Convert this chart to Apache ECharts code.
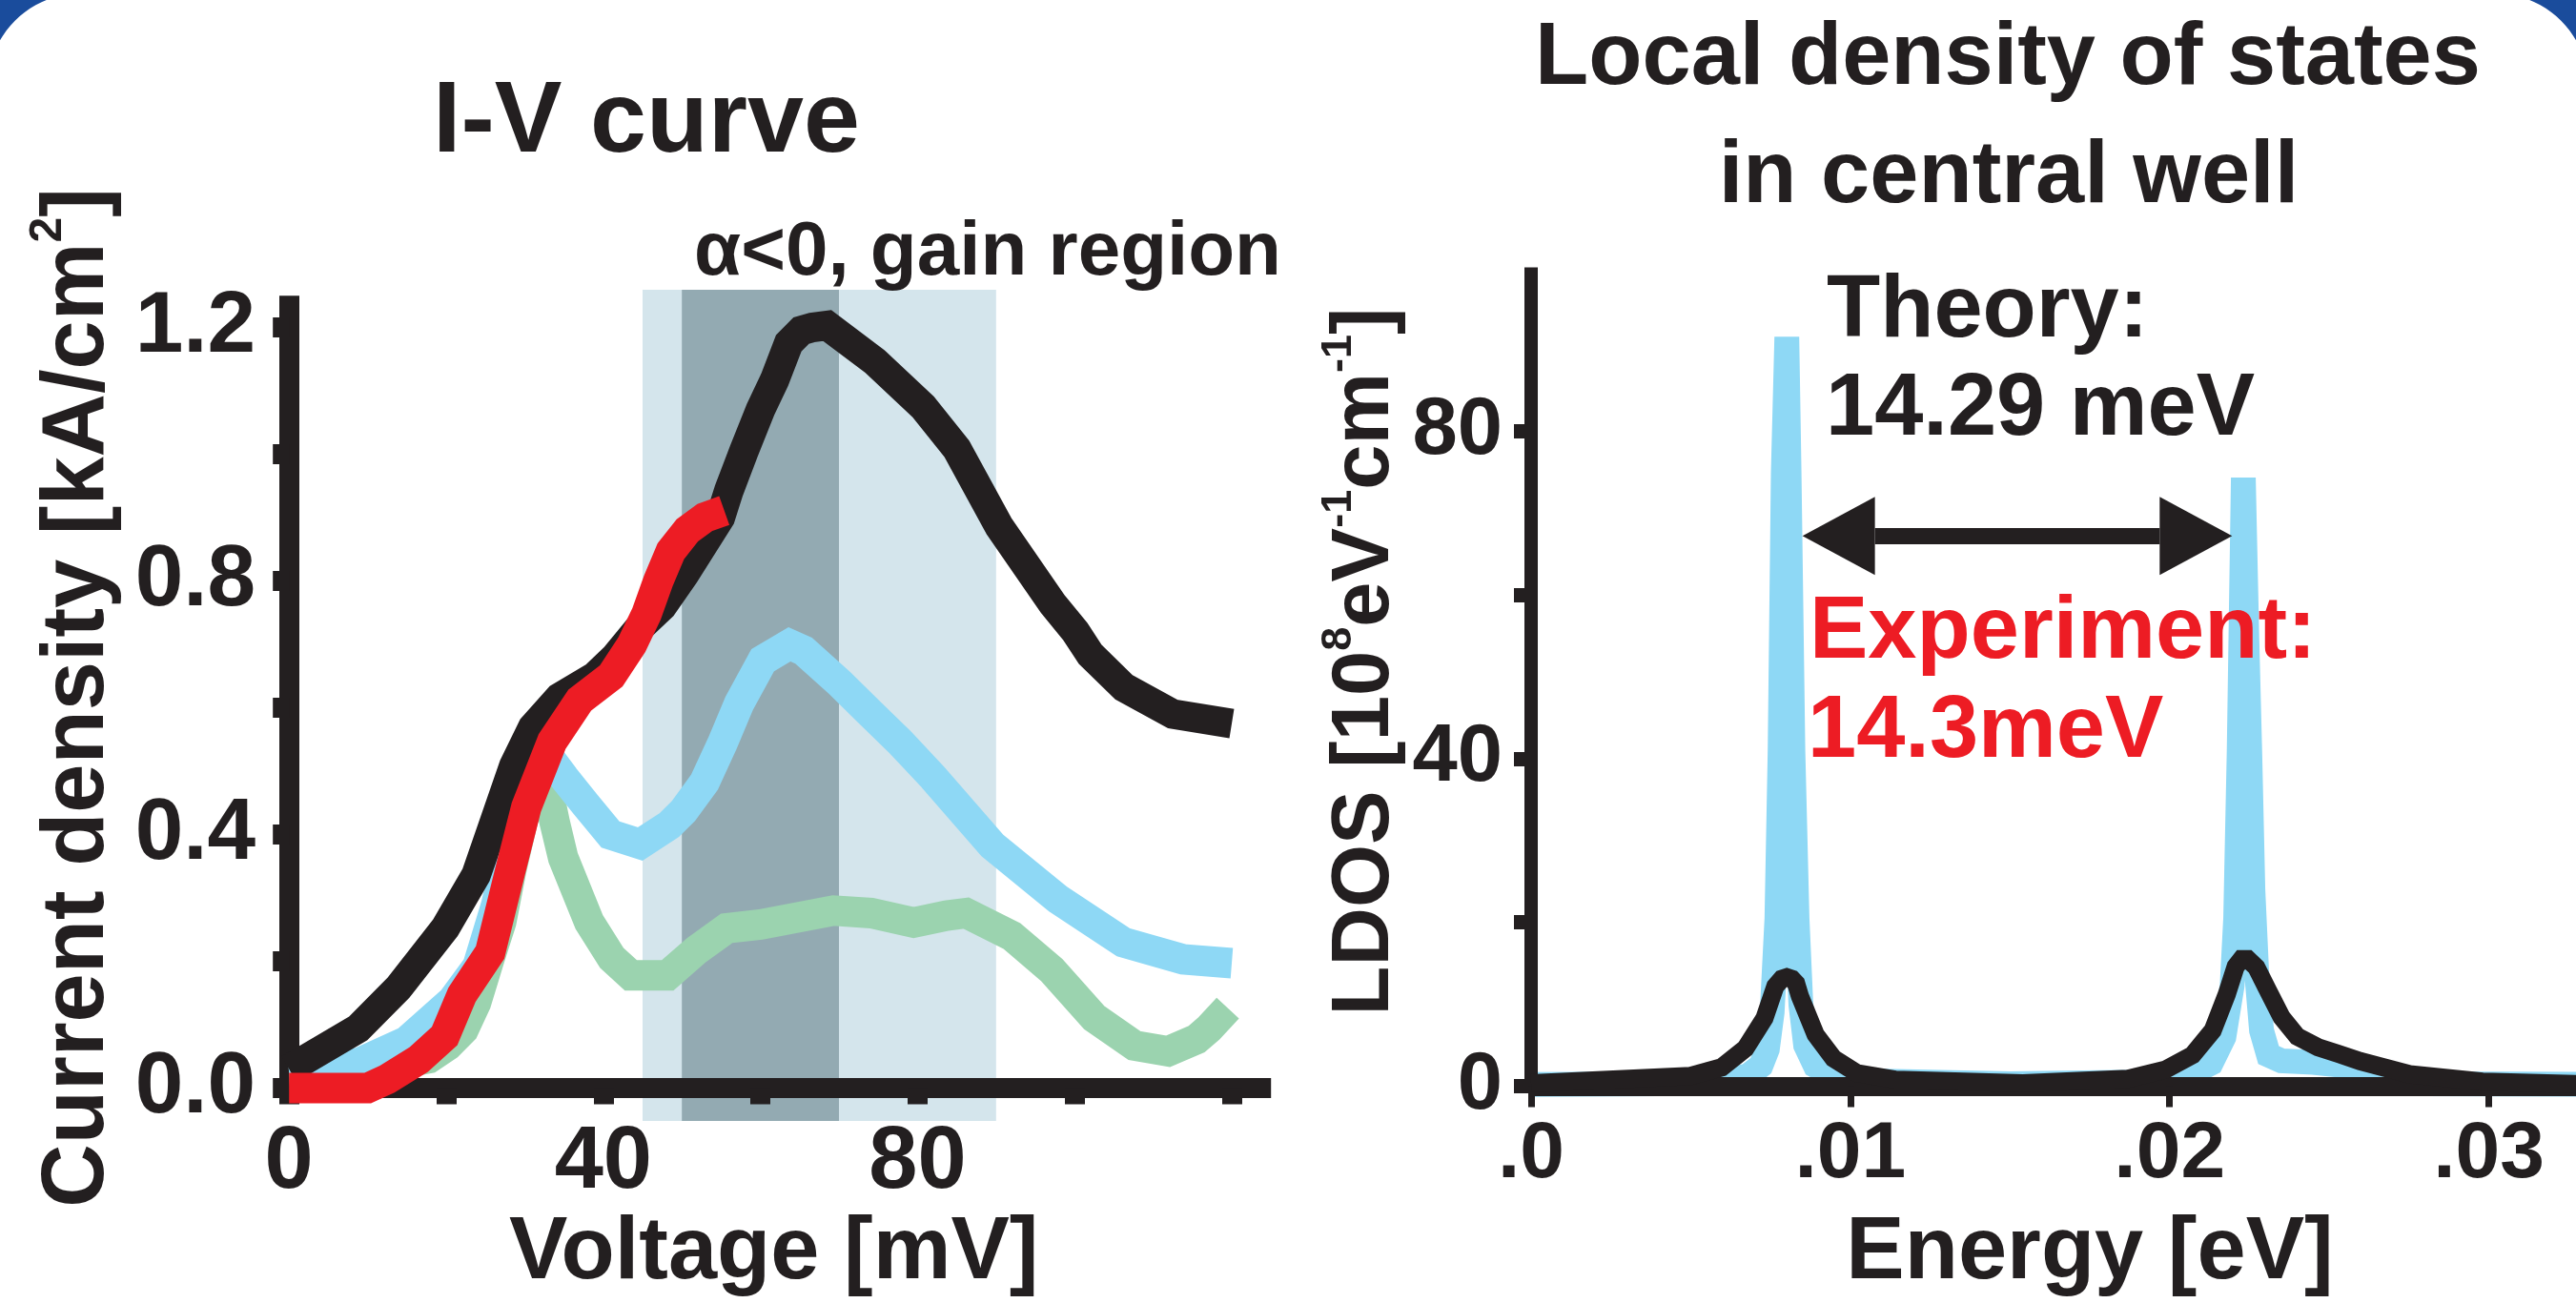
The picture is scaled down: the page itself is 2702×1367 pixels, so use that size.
<!DOCTYPE html>
<html>
<head>
<meta charset="utf-8">
<script src="https://cdn.jsdelivr.net/npm/echarts@6.0.0/dist/echarts.min.js"></script>
<style>
html,body{margin:0;padding:0;background:#ffffff;overflow:hidden;}
#chart{width:2702px;height:1367px;}
</style>
</head>
<body>
<div id="chart"></div>
<script>
// ---------------- data ----------------
// I-V curves: [voltage mV, current density kA/cm^2]
const ivBlack = [[0,0.03],[8.8,0.094],[13.9,0.158],[19.9,0.253],[23.8,0.336],[28.6,0.508],[31,0.569],[34.4,0.616],[39,0.65],[41.5,0.68],[44.5,0.725],[47.5,0.76],[50.3,0.81],[54.9,0.9],[56,0.943],[57.9,1.005],[60,1.07],[61.8,1.117],[63.6,1.175],[65.2,1.195],[66.6,1.2],[68.5,1.203],[74.6,1.146],[80.7,1.075],[85,1.0085],[90.4,0.886],[97.2,0.764],[100.1,0.72],[102,0.684],[106.3,0.632],[112.5,0.59],[120,0.575]];
const ivBlue = [[0,0.025],[9,0.04],[15,0.074],[20.8,0.138],[24,0.192],[26.4,0.29],[28.7,0.416],[30.1,0.47],[32,0.505],[33.5,0.515],[35,0.49],[37.7,0.448],[40.9,0.4],[44.7,0.385],[48.4,0.415],[50.2,0.437],[52.9,0.483],[55.2,0.545],[57.3,0.607],[60.3,0.675],[63.7,0.7],[65.5,0.69],[70.1,0.639],[74.1,0.59],[77.8,0.5455],[82,0.49],[89.5,0.383],[97.9,0.298],[106.2,0.23],[113.8,0.203],[120,0.197]];
const ivGreen = [[0,0.025],[8,0.03],[14,0.038],[17.8,0.047],[20.2,0.067],[22.2,0.092],[23.8,0.135],[25.4,0.2],[27,0.262],[28.3,0.345],[29.8,0.425],[31.2,0.465],[32.8,0.48],[33.8,0.42],[34.9,0.363],[38.2,0.262],[41.1,0.205],[43.5,0.178],[48.2,0.178],[51.9,0.218],[55.7,0.252],[60,0.258],[69.3,0.28],[74.1,0.276],[79.5,0.261],[83.7,0.272],[86.2,0.276],[92,0.24],[97.1,0.186],[102.5,0.111],[107.6,0.067],[111.9,0.058],[115.5,0.077],[117.1,0.094],[119.5,0.126]];
const ivRed = [[0,0],[10,0],[12.5,0.014],[16.5,0.045],[19.8,0.082],[22,0.147],[25.6,0.214],[28.1,0.34],[30.2,0.443],[33.5,0.547],[37,0.612],[41,0.65],[43.65,0.7],[45.5,0.748],[47,0.8],[48.6,0.847],[50.7,0.88],[52.9,0.9],[55.4,0.911]];
const gainBandOuter = [45, 90];   // mV
const gainBandInner = [50, 70];   // mV
const ivXRange = [0, 125];
const ivYRange = [0, 1.25];
const ivXTicks = [0, 20, 40, 60, 80, 100, 120];
const ivXLabels = [0, 40, 80];
const ivYTicks = [0, 0.2, 0.4, 0.6, 0.8, 1.0, 1.2];
const ivYLabels = [0, 0.4, 0.8, 1.2];

// LDOS: [energy eV, LDOS 1e8 eV^-1 cm^-1]
const ldosTheory = [[0,0.2],[0.004,0.3],[0.006,0.6],[0.0068,1.3],[0.0072,2.5],[0.0074,4.5],[0.00755,9],[0.0077,20.5],[0.0078,41],[0.0079,75],[0.00801,91.5],[0.00808,75],[0.0082,41],[0.00833,20.5],[0.00845,10],[0.0086,5],[0.0089,2.5],[0.0095,1.2],[0.011,0.6],[0.015,0.3],[0.019,0.5],[0.0205,1.2],[0.0213,2.8],[0.0217,6],[0.02196,12.3],[0.02207,20.5],[0.02218,41],[0.02231,74.3],[0.02242,54.7],[0.02251,41],[0.02261,23.9],[0.02273,13.7],[0.02288,6.8],[0.0231,3.8],[0.0235,3.1],[0.0245,2.9],[0.0255,2.5],[0.026,1.6],[0.0268,0.7],[0.028,0.3],[0.035,0.2]];
const ldosExperiment = [[0,0.35],[0.005,1.25],[0.00597,2.3],[0.00671,4.6],[0.00731,8.3],[0.00765,12.2],[0.00785,13.1],[0.00801,13.3],[0.00817,13.1],[0.0083,12.55],[0.00842,11],[0.00891,6.3],[0.00947,3.4],[0.0102,1.6],[0.0114,0.8],[0.0154,0.35],[0.0187,0.9],[0.01986,2],[0.02072,3.8],[0.02135,6.8],[0.02179,11.2],[0.02207,14.6],[0.02225,15.5],[0.02245,15.5],[0.02272,14.5],[0.02308,11.7],[0.02351,8.4],[0.024,6.05],[0.02465,4.74],[0.02528,3.95],[0.02597,3.05],[0.02752,1.45],[0.0298,0.55],[0.0327,0.25],[0.035,0.2]];
const ldosXRange = [0, 0.035];
const ldosYRange = [0, 100];
const ldosXTicks = [0, 0.01, 0.02, 0.03];
const ldosXLabelText = ['.0', '.01', '.02', '.03'];
const ldosYTicks = [0, 20, 40, 60, 80];
const ldosYLabels = [0, 40, 80];
const arrowShaft = [0.01077, 0.01969];  // arrow shaft ends (heads extend outward)
const arrowLevel = 67.2;

// ---------------- styling ----------------
const FONT = '"Liberation Sans", Arial, Helvetica, sans-serif';
const INK = '#231f20';
const RED = '#ed1c24';
const SKY = '#8ed8f5';
const MINT = '#9bd3af';
const FRAME = '#1a4c9c';

const W = 2702;
const chart = echarts.init(document.getElementById('chart'), null, {renderer: 'canvas', width: 2702, height: 1367});

// decorative frame corners (outside of a rounded slide border)
function cornerPolygon(mirror) {
  const cx = 85, cy = 91, r = 98, pts = [[0, 0]];
  for (let a = 209; a <= 249.01; a += 4) {
    const t = a * Math.PI / 180;
    pts.push([cx + r * Math.cos(t), cy + r * Math.sin(t)]);
  }
  pts.push([0, 0]);
  return mirror ? pts.map(p => [W - p[0], p[1]]) : pts;
}

function curve(name, data, color, width, xi, yi, z) {
  return {
    type: 'line', name: name, data: data, xAxisIndex: xi, yAxisIndex: yi,
    showSymbol: false, symbol: 'none', clip: false, z: z, silent: true,
    lineStyle: {color: color, width: width, cap: 'butt', join: 'miter', miterLimit: 4},
    emphasis: {disabled: true}, animation: false
  };
}

function txt(text, x, y, size, color, align) {
  return {
    type: 'text', x: x, y: y, z: 50, silent: true,
    style: {text: text, font: 'bold ' + size + 'px ' + FONT, fill: color, align: align, verticalAlign: 'middle'}
  };
}

const labelBase = {color: INK, fontWeight: 'bold', fontFamily: FONT};

const option = {
  backgroundColor: '#ffffff',
  animation: false,
  textStyle: {fontFamily: FONT},
  graphic: [
    {type: 'polygon', z: -20, silent: true, shape: {points: cornerPolygon(false)}, style: {fill: FRAME}},
    {type: 'polygon', z: -20, silent: true, shape: {points: cornerPolygon(true)}, style: {fill: FRAME}},
    txt('I-V curve', 678, 129.3, 106, INK, 'center'),
    txt('Local density of states', 2106, 62.7, 92, INK, 'center'),
    txt('in central well', 2107, 186.8, 92, INK, 'center'),
    txt('\u03b1<0, gain region', 1036, 266, 80, INK, 'center'),
    txt('Theory:', 1916, 327.7, 92, INK, 'left'),
    txt('14.29 meV', 1915, 430.5, 92, INK, 'left'),
    txt('Experiment:', 1898, 665.1, 92, RED, 'left'),
    txt('14.3meV', 1896, 769.1, 92, RED, 'left')
  ],
  grid: [
    {left: 303.2, right: 1368.8, top: 310.25, bottom: 225.5, outerBoundsMode: 'none', containLabel: false},
    {left: 303.2, right: 1368.8, top: 304, bottom: 191, outerBoundsMode: 'none', containLabel: false},
    {left: 1606, right: -76, top: 280.5, bottom: 227.5, outerBoundsMode: 'none', containLabel: false}
  ],
  xAxis: [
    {
      gridIndex: 0, type: 'value', min: ivXRange[0], max: ivXRange[1], z: 1,
      axisLine: {show: true, onZero: false, lineStyle: {color: INK, width: 21, cap: 'butt'}},
      axisTick: {show: true, length: 17, customValues: ivXTicks, lineStyle: {color: INK, width: 21}},
      axisLabel: Object.assign({customValues: ivXLabels, fontSize: 92, margin: 33.5, formatter: v => String(v)}, labelBase),
      splitLine: {show: false},
      name: 'Voltage [mV]', nameLocation: 'middle', nameGap: 128.5, nameMoveOverlap: false,
      nameTextStyle: Object.assign({fontSize: 92, padding: [0, 13, 0, 0]}, labelBase)
    },
    {gridIndex: 1, type: 'value', min: ivXRange[0], max: ivXRange[1], show: false},
    {
      gridIndex: 2, type: 'value', min: ldosXRange[0], max: ldosXRange[1], z: 3,
      axisLine: {show: true, onZero: false, lineStyle: {color: INK, width: 20, cap: 'butt'}},
      axisTick: {show: true, length: 22, customValues: ldosXTicks, lineStyle: {color: INK, width: 7}},
      axisLabel: Object.assign({customValues: ldosXTicks, fontSize: 84, margin: 30.5,
        formatter: v => { const i = ldosXTicks.findIndex(t => Math.abs(t - v) < 1e-9); return i >= 0 ? ldosXLabelText[i] : ''; }}, labelBase),
      splitLine: {show: false},
      name: 'Energy [eV]', nameLocation: 'middle', nameGap: 130.5, nameMoveOverlap: false,
      nameTextStyle: Object.assign({fontSize: 92}, labelBase)
    }
  ],
  yAxis: [
    {
      gridIndex: 0, type: 'value', min: ivYRange[0], max: ivYRange[1], z: 1,
      axisLine: {show: true, onZero: false, lineStyle: {color: INK, width: 21, cap: 'butt'}},
      axisTick: {show: true, length: 17, customValues: ivYTicks, lineStyle: {color: INK, width: 21}},
      axisLabel: Object.assign({customValues: ivYLabels, fontSize: 91, margin: 35, formatter: v => v.toFixed(1)}, labelBase),
      splitLine: {show: false},
      name: 'Current density [kA/cm{sup|2}]', nameLocation: 'middle', nameGap: 166, nameMoveOverlap: false,
      nameTextStyle: Object.assign({fontSize: 92, lineHeight: 110, padding: [0, 12, 0, 0],
        rich: {sup: {fontSize: 48, lineHeight: 48, fontWeight: 'bold', fontFamily: FONT, color: INK, verticalAlign: 'top'}}}, labelBase)
    },
    {gridIndex: 1, type: 'value', min: 0, max: 1, show: false},
    {
      gridIndex: 2, type: 'value', min: ldosYRange[0], max: ldosYRange[1], z: 3,
      axisLine: {show: true, onZero: false, lineStyle: {color: INK, width: 14, cap: 'butt'}},
      axisTick: {show: true, length: 18, customValues: ldosYTicks, lineStyle: {color: INK, width: 15}},
      axisLabel: Object.assign({customValues: ldosYLabels, fontSize: 85, margin: 30, formatter: v => String(v)}, labelBase),
      splitLine: {show: false},
      name: 'LDOS [10{sup|8}eV{sup|-1}cm{sup|-1}]', nameLocation: 'middle', nameGap: 123.5, nameMoveOverlap: false,
      nameTextStyle: Object.assign({fontSize: 85, lineHeight: 100, padding: [0, 0, 0, 32],
        rich: {sup: {fontSize: 45, lineHeight: 45, fontWeight: 'bold', fontFamily: FONT, color: INK, verticalAlign: 'top'}}}, labelBase)
    }
  ],
  series: [
    {
      type: 'line', name: 'gain band', xAxisIndex: 1, yAxisIndex: 1, z: 0, silent: true,
      data: gainBandOuter.map(v => [v, 0]), showSymbol: false, symbol: 'none',
      lineStyle: {width: 0, opacity: 0}, animation: false,
      markArea: {
        silent: true, animation: false,
        data: [
          [{xAxis: gainBandOuter[0], itemStyle: {color: '#d4e5ec', opacity: 1}}, {xAxis: gainBandOuter[1]}],
          [{xAxis: gainBandInner[0], itemStyle: {color: '#93aab2', opacity: 1}}, {xAxis: gainBandInner[1]}]
        ]
      }
    },
    curve('green', ivGreen, MINT, 32, 0, 0, 2),
    curve('blue', ivBlue, SKY, 32, 0, 0, 2),
    curve('black', ivBlack, INK, 31, 0, 0, 2),
    curve('red', ivRed, RED, 32, 0, 0, 2),
    curve('LDOS theory', ldosTheory, SKY, 26, 2, 2, 2),
    Object.assign(curve('LDOS experiment', ldosExperiment, INK, 19, 2, 2, 4), {
      markLine: {
        silent: true, animation: false,
        symbol: ['triangle', 'triangle'], symbolSize: [82, 76],
        symbolOffset: [[0, '-50%'], [0, '-50%']],
        label: {show: false},
        lineStyle: {color: INK, width: 17, type: 'solid', opacity: 1},
        emphasis: {disabled: true},
        data: [[{coord: [arrowShaft[0], arrowLevel]}, {coord: [arrowShaft[1], arrowLevel]}]]
      }
    })
  ]
};

chart.setOption(option);
</script>
</body>
</html>
